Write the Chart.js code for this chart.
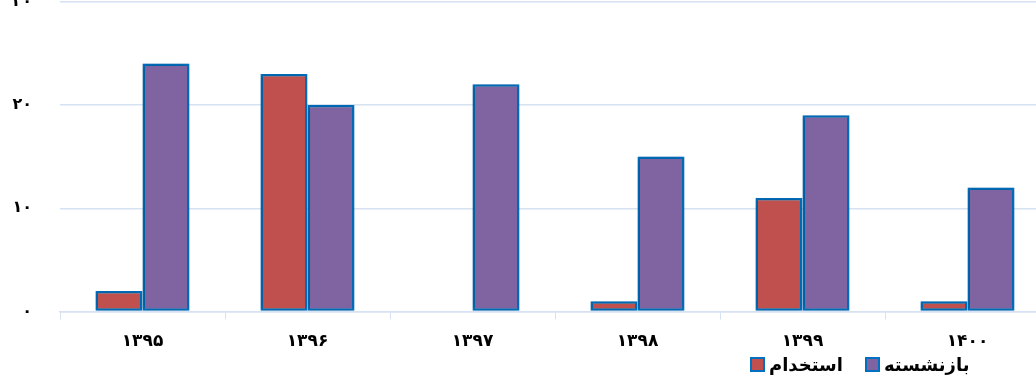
<!DOCTYPE html>
<html>
<head>
<meta charset="utf-8">
<script src="https://cdn.jsdelivr.net/npm/chart.js@4.4.1/dist/chart.umd.min.js"></script>
<style>
  html, body { margin: 0; padding: 0; background: #fff; overflow: hidden; width: 1036px; height: 376px; }
  #wrap { position: absolute; left: 0; top: -36px; width: 1050px; height: 400px; }
  #legend { position: absolute; left: 750px; top: 354px; display: flex; direction: ltr; gap: 22px;
    font: bold 18px 'DejaVu Sans', sans-serif; color: #000; }
  #legend span { display: inline-flex; align-items: center; gap: 4px; }
  #legend i { display: inline-block; width: 11px; height: 11px; border: 2px solid #0070C0; }
</style>
</head>
<body>
<div id="wrap"><canvas id="barChart"></canvas></div>
<div id="legend"></div>
<script>
const years = ['۱۳۹۵', '۱۳۹۶', '۱۳۹۷', '۱۳۹۸', '۱۳۹۹', '۱۴۰۰'];
const hired = [2, 23, null, 1, 11, 1];
const retired = [24, 20, 22, 15, 19, 12];
const seriesNames = ['استخدام', 'بازنشسته'];
const seriesColors = ['#C0504D', '#8064A2'];

const faDigits = '۰۱۲۳۴۵۶۷۸۹';
function toFa(n) {
  return String(n).replace(/\d/g, d => faDigits[d]);
}

const gridColor = '#D6E2F2';
const fontFamily = "'DejaVu Sans', sans-serif";

// soft shadow behind the bars, like the original office chart
const barShadow = {
  id: 'barShadow',
  beforeDatasetsDraw(chart) {
    const ctx = chart.ctx;
    ctx.save();
    ctx.shadowColor = 'rgba(0,0,0,0.25)';
    ctx.shadowBlur = 4;
    ctx.shadowOffsetX = -1;
    ctx.shadowOffsetY = 0;
  },
  afterDatasetsDraw(chart) {
    chart.ctx.restore();
  }
};

new Chart(document.getElementById('barChart'), {
  type: 'bar',
  data: {
    labels: years,
    datasets: [hired, retired].map((values, i) => ({
      label: seriesNames[i],
      data: values,
      backgroundColor: seriesColors[i],
      borderColor: '#0070C0',
      borderWidth: 2.5,
      borderSkipped: false,
      barPercentage: 1,
      categoryPercentage: 0.57
    }))
  },
  options: {
    responsive: true,
    maintainAspectRatio: false,
    animation: false,
    layout: { padding: 0 },
    plugins: {
      legend: { display: false },
      tooltip: { enabled: false }
    },
    scales: {
      x: {
        grid: { display: true, drawOnChartArea: false, color: gridColor, tickLength: 8, offset: true },
        border: { color: gridColor, width: 1.5 },
        ticks: { color: '#000', font: { family: fontFamily, size: 17, weight: 'bold' }, padding: 12 }
      },
      y: {
        min: 0,
        max: 30,
        afterFit: scale => { scale.width = 60; },
        grid: { color: gridColor, drawTicks: false, lineWidth: 1.5 },
        border: { display: false },
        ticks: {
          stepSize: 10,
          color: '#000',
          padding: 28,
          font: { family: fontFamily, size: 16, weight: 'bold' },
          callback: v => toFa(v)
        }
      }
    }
  },
  plugins: [barShadow]
});

const legendEl = document.getElementById('legend');
seriesNames.forEach((name, i) => {
  const item = document.createElement('span');
  item.innerHTML = '<i style="background:' + seriesColors[i] + '"></i>' + name;
  legendEl.appendChild(item);
});
</script>
</body>
</html>
